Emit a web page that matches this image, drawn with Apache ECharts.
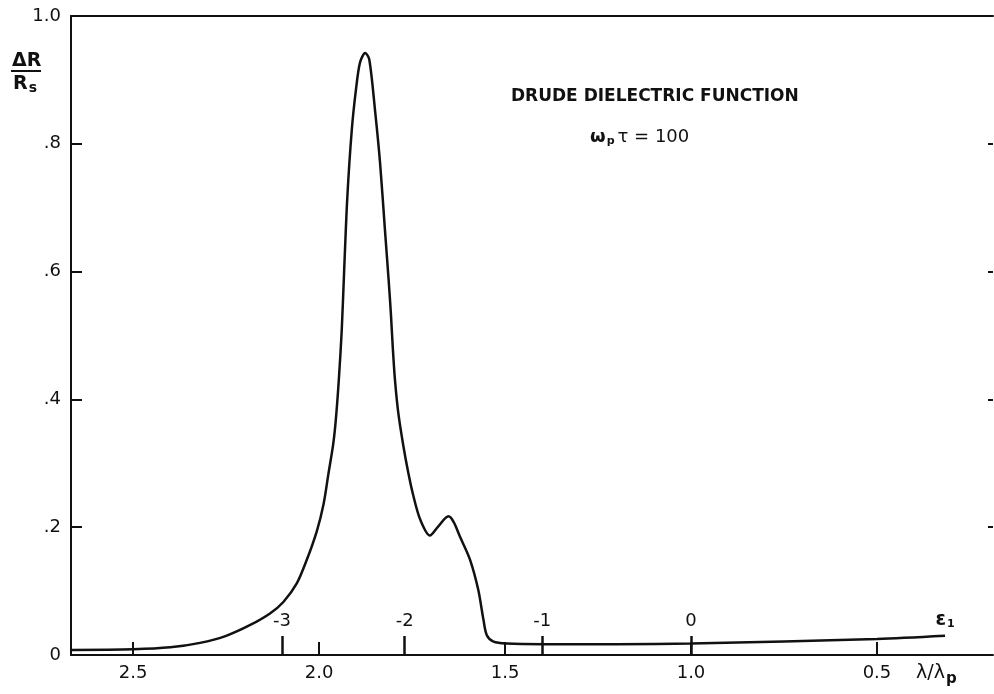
<!DOCTYPE html>
<html>
<head>
<meta charset="utf-8">
<script src="https://cdn.jsdelivr.net/npm/echarts@6/dist/echarts.min.js"></script>
<style>
  html, body { margin: 0; padding: 0; background: #fff; }
  #chart { width: 994px; height: 694px; }
</style>
</head>
<body>
<div id="chart"></div>
<script>
// Reflectance change dR/Rs versus reduced wavelength (Drude model)
const lambdaRatio = [2.667, 2.50, 2.40, 2.32, 2.25, 2.185, 2.132, 2.096, 2.060, 2.033, 2.006, 1.988,
  1.975, 1.962, 1.955, 1.947, 1.939, 1.932, 1.924, 1.912, 1.901, 1.890, 1.876, 1.865, 1.849, 1.836,
  1.823, 1.813, 1.807, 1.802, 1.796, 1.787, 1.773, 1.760, 1.746, 1.728, 1.702, 1.680, 1.652,
  1.638, 1.621, 1.594, 1.572, 1.558, 1.549, 1.531, 1.495, 1.398, 1.20, 1.00, 0.50, 0.317];
const deltaR = [0.008, 0.009, 0.012, 0.019, 0.030, 0.047, 0.065, 0.083, 0.112, 0.149, 0.194, 0.236,
  0.283, 0.330, 0.368, 0.430, 0.509, 0.610, 0.717, 0.822, 0.884, 0.927, 0.942, 0.932, 0.849, 0.770,
  0.666, 0.587, 0.535, 0.483, 0.431, 0.379, 0.326, 0.285, 0.248, 0.212, 0.187, 0.201, 0.217,
  0.208, 0.185, 0.149, 0.102, 0.055, 0.031, 0.021, 0.018, 0.017, 0.017, 0.018, 0.025, 0.030];

// Bottom axis ticks (lambda / lambda_p)
const xTickValues = [2.5, 2.0, 1.5, 1.0, 0.5];
// Inner scale: epsilon_1 values marked along the wavelength axis
const epsTickPositions = [2.10, 1.77, 1.40, 1.00];
const epsTickLabels = ['-3', '-2', '-1', '0'];
const epsNamePosition = 0.317;
// Vertical axis
const yTickValues = [0, 0.2, 0.4, 0.6, 0.8, 1.0];
const yTickLabels = ['0', '.2', '.4', '.6', '.8', '1.0'];

const FONT = 'DejaVu Sans';
const INK = '#111';

const chart = echarts.init(document.getElementById('chart'));

// points in ascending x order so the smoothing runs along x
const seriesData = lambdaRatio.map((x, i) => [x, deltaR[i]]).reverse();
const epsLabelValues = epsTickPositions.concat([epsNamePosition]);

chart.setOption({
  animation: false,
  backgroundColor: '#fff',
  grid: { left: 71, right: 1, top: 16, bottom: 39 },
  xAxis: [
    {
      type: 'value', position: 'bottom', inverse: true, min: 0.188, max: 2.667,
      splitLine: { show: false },
      axisLine: { show: true, onZero: false, lineStyle: { color: INK, width: 2 } },
      axisTick: { show: true, inside: true, length: 13, customValues: xTickValues,
        lineStyle: { color: INK, width: 2 } },
      axisLabel: { show: true, margin: 9, customValues: xTickValues, color: INK,
        fontFamily: FONT, fontSize: 18, formatter: v => v.toFixed(1) }
    },
    {
      type: 'value', position: 'top', inverse: true, min: 0.188, max: 2.667,
      splitLine: { show: false },
      axisLine: { show: true, onZero: false, lineStyle: { color: INK, width: 2 } },
      axisTick: { show: false }, axisLabel: { show: false }
    },
    {
      type: 'value', position: 'bottom', inverse: true, min: 0.188, max: 2.667,
      splitLine: { show: false },
      axisLine: { show: false, onZero: false },
      axisTick: { show: true, inside: true, length: 19, customValues: epsTickPositions,
        lineStyle: { color: INK, width: 2.5 } },
      axisLabel: { show: true, inside: true, margin: 25, customValues: epsLabelValues,
        color: INK, fontFamily: FONT, fontSize: 18,
        formatter: v => {
          const i = epsTickPositions.indexOf(v);
          return i >= 0 ? epsTickLabels[i] : '{e|\u03b5}{s|1}';
        },
        rich: {
          e: { fontFamily: FONT, fontSize: 19, fontWeight: 'bold', color: INK },
          s: { fontFamily: FONT, fontSize: 11, fontWeight: 'bold', color: INK, padding: [8, 0, 0, 1] }
        }
      }
    }
  ],
  yAxis: [
    {
      type: 'value', position: 'left', min: 0, max: 1, interval: 0.2,
      splitLine: { show: false },
      axisLine: { show: true, onZero: false, lineStyle: { color: INK, width: 2 } },
      axisTick: { show: true, inside: true, length: 11, lineStyle: { color: INK, width: 2 } },
      axisLabel: { show: true, margin: 10, color: INK, fontFamily: FONT, fontSize: 18,
        formatter: v => {
          const i = yTickValues.findIndex(t => Math.abs(t - v) < 1e-6);
          return i >= 0 ? yTickLabels[i] : '';
        }
      }
    },
    {
      type: 'value', position: 'right', min: 0, max: 1, interval: 0.2,
      splitLine: { show: false },
      axisLine: { show: false, onZero: false },
      axisTick: { show: true, inside: true, length: 5, customValues: [0.2, 0.4, 0.6, 0.8],
        lineStyle: { color: INK, width: 2 } },
      axisLabel: { show: false }
    }
  ],
  series: [
    {
      type: 'line', xAxisIndex: 0, yAxisIndex: 0,
      data: seriesData,
      showSymbol: false, symbol: 'none',
      smooth: 0.3,
      lineStyle: { color: INK, width: 2.5 }
    }
  ],
  graphic: [
    // vertical axis title: dR over Rs
    { type: 'text', left: 12, top: 52,
      style: { text: '\u0394R', fontFamily: FONT, fontSize: 19, fontWeight: 'bold', fill: INK } },
    { type: 'line', shape: { x1: 11, y1: 71, x2: 41, y2: 71 },
      style: { stroke: INK, lineWidth: 2 } },
    { type: 'text', left: 13, top: 75,
      style: { text: '{r|R}{s|s}', fill: INK,
        rich: {
          r: { fontFamily: FONT, fontSize: 19, fontWeight: 'bold', fill: INK },
          s: { fontFamily: FONT, fontSize: 14, fontWeight: 'bold', fill: INK, padding: [8, 0, 0, 1] }
        } } },
    // annotations
    { type: 'text', left: 511, top: 88,
      style: { text: 'DRUDE DIELECTRIC FUNCTION', fontFamily: FONT, fontSize: 17,
        fontWeight: 'bold', fill: INK } },
    { type: 'text', left: 590, top: 128,
      style: { text: '{w|\u03c9}{p|p}{t|\u03c4 = 100}', fill: INK,
        rich: {
          w: { fontFamily: FONT, fontSize: 18, fontWeight: 'bold', fill: INK },
          p: { fontFamily: FONT, fontSize: 11, fontWeight: 'bold', fill: INK, padding: [8, 3, 0, 1] },
          t: { fontFamily: FONT, fontSize: 18, fill: INK }
        } } },
    // horizontal axis title
    { type: 'text', left: 916, top: 664,
      style: { text: '{l|\u03bb/\u03bb}{p|p}', fill: INK,
        rich: {
          l: { fontFamily: FONT, fontSize: 19, fill: INK },
          p: { fontFamily: FONT, fontSize: 15, fontWeight: 'bold', fill: INK, padding: [12, 0, 0, 1] }
        } } }
  ]
});
</script>
</body>
</html>
